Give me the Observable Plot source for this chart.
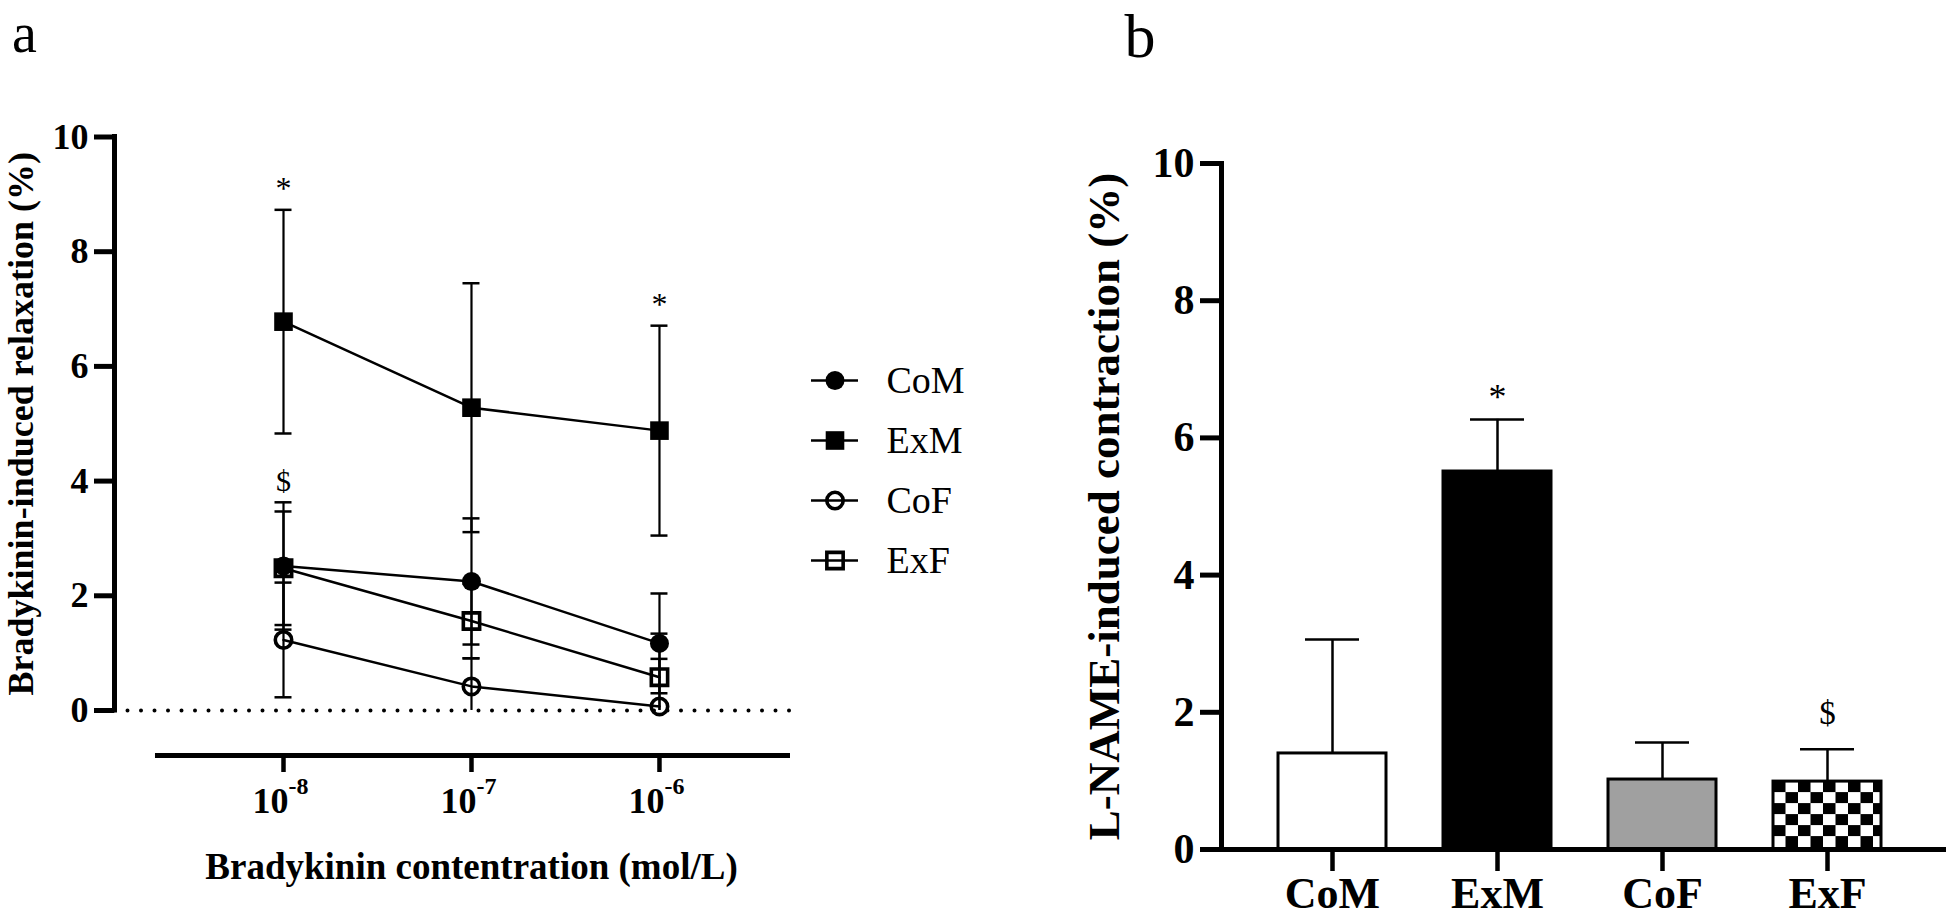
<!DOCTYPE html>
<html>
<head>
<meta charset="utf-8">
<script src="https://cdn.jsdelivr.net/npm/d3@7"></script>
<script src="https://cdn.jsdelivr.net/npm/@observablehq/plot@0.6"></script>
<style>
  html, body { margin: 0; padding: 0; background: #fff; }
  #chart { position: relative; width: 1946px; height: 921px; background: #fff; overflow: hidden; color: #000; }
  #chart > svg { position: absolute; top: 0; }
</style>
</head>
<body>
<div id="chart"></div>
<script>
// ---------------- DATA ----------------
// Panel a: bradykinin-induced relaxation (%), mean and SEM per group and concentration
const concentrations = [1e-8, 1e-7, 1e-6];
const xTickBase = ["10", "10", "10"];
const xTickExponent = ["-8", "-7", "-6"];
const seriesNames = ["CoM", "ExM", "CoF", "ExF"];
const relaxCoM = [2.52, 2.25, 1.17];
const relaxExM = [6.78, 5.28, 4.88];
const relaxCoF = [1.23, 0.42, 0.07];
const relaxExF = [2.48, 1.56, 0.58];
const semCoM = [1.11, 1.10, 0.87];
const semExM = [1.95, 2.17, 1.83];
const semCoF = [1.00, 0.49, 0.83];
const semExF = [0.99, 0.65, 0.76];
const yTicks = [0, 2, 4, 6, 8, 10];
const sigConcA = [1e-8, 1e-6, 1e-8];
const sigSeriesA = ["ExM", "ExM", "CoM"];
const sigMarkA = ["*", "*", "$"];
const titleAx = "Bradykinin contentration (mol/L)";
const titleAy = "Bradykinin-induced relaxation (%)";

// Panel b: L-NAME-induced contraction (%)
const groups = ["CoM", "ExM", "CoF", "ExF"];
const contraction = [1.40, 5.51, 1.02, 0.99];
const contractionSem = [1.66, 0.76, 0.54, 0.47];
const sigGroupsB = ["ExM", "ExF"];
const sigMarkB = ["*", "$"];
const titleBy = "L-NAME-induced contraction (%)";

// ---------------- STYLES ----------------
const FONT = "Liberation Serif, Times New Roman, serif";
const markerStyle = {
  CoM: {symbol: "circle", fill: "black", stroke: "none", r: 9.5},
  ExM: {symbol: "square", fill: "black", stroke: "none", r: 10.5},
  CoF: {symbol: "circle", fill: "none", stroke: "black", strokeWidth: 3.6, r: 8.2},
  ExF: {symbol: "square", fill: "none", stroke: "black", strokeWidth: 3.6, r: 9.2}
};
const barFill = {CoM: "white", ExM: "black", CoF: "#a0a0a0", ExF: "url(#checker)"};
const svgStyle = {fontFamily: FONT, background: "transparent", maxWidth: "none", overflow: "visible", color: "black"};

// ---------------- TABLES ----------------
const means = {CoM: relaxCoM, ExM: relaxExM, CoF: relaxCoF, ExF: relaxExF};
const sems = {CoM: semCoM, ExM: semExM, CoF: semCoF, ExF: semExF};
const rows = [];
seriesNames.forEach(s => concentrations.forEach((c, i) => rows.push({series: s, conc: c, mean: means[s][i], sem: sems[s][i]})));
const caps = [];
rows.forEach(d => {
  caps.push({conc: d.conc, y: d.mean + d.sem});
  if (d.mean - d.sem >= 0) caps.push({conc: d.conc, y: d.mean - d.sem});
});
const sigA = sigConcA.map((c, i) => {
  const k = concentrations.indexOf(c);
  const s = sigSeriesA[i];
  return {conc: c, y: means[s][k] + sems[s][k], mark: sigMarkA[i]};
});
const bars = groups.map((g, i) => ({group: g, value: contraction[i], sem: contractionSem[i]}));
const sigB = sigGroupsB.map((g, i) => {
  const k = groups.indexOf(g);
  return {group: g, y: contraction[k] + contractionSem[k], mark: sigMarkB[i]};
});

// ---------------- PANEL A ----------------
const xMin = 10 ** -8.899, xMax = 10 ** -5.303, xAxisStart = 10 ** -8.681;
const yBottom = -0.785;

const plotA = Plot.plot({
  width: 1000, height: 921,
  marginLeft: 114, marginRight: 210, marginTop: 136.5, marginBottom: 166,
  style: svgStyle,
  x: {type: "log", domain: [xMin, xMax]},
  y: {domain: [yBottom, 10]},
  marks: [
    Plot.ruleY([0], {stroke: "black", strokeWidth: 4, strokeDasharray: "0 13.5", strokeLinecap: "round"}),
    Plot.ruleY([yBottom], {x1: () => xAxisStart, x2: () => xMax, strokeWidth: 5}),
    Plot.ruleX([xMin], {y1: () => 0, y2: () => 10, strokeWidth: 5, strokeLinecap: "square"}),
    Plot.axisY({ticks: yTicks, tickSize: 20, tickPadding: 6, strokeWidth: 5, fontSize: 36, fontWeight: "bold", tickFormat: d3.format("d"), label: null}),
    Plot.axisX({ticks: concentrations, tickSize: 17, strokeWidth: 4.5, tickFormat: () => "", label: null}),
    Plot.text(concentrations, {x: d => d, text: (d, i) => xTickBase[i], frameAnchor: "bottom", lineAnchor: "bottom", textAnchor: "end", dx: 5, dy: 57, fontSize: 36, fontWeight: "bold"}),
    Plot.text(concentrations, {x: d => d, text: (d, i) => xTickExponent[i], frameAnchor: "bottom", lineAnchor: "bottom", textAnchor: "start", dx: 5, dy: 38, fontSize: 24, fontWeight: "bold"}),
    Plot.line(rows, {x: "conc", y: "mean", z: "series", stroke: "black", strokeWidth: 2.5}),
    Plot.ruleX(rows, {x: "conc", y1: d => Math.max(0, d.mean - d.sem), y2: d => d.mean + d.sem, strokeWidth: 2.2}),
    Plot.ruleY(caps, {y: "y", x1: "conc", x2: "conc", insetLeft: -8.5, insetRight: -8.5, strokeWidth: 2.5}),
    ...seriesNames.map(s => Plot.dot(rows.filter(d => d.series === s), {x: "conc", y: "mean", ...markerStyle[s]})),
    Plot.text(sigA.filter(d => d.mark === "*"), {x: "conc", y: "y", text: "mark", lineAnchor: "bottom", dy: -11, fontSize: 32}),
    Plot.text(sigA.filter(d => d.mark === "$"), {x: "conc", y: "y", text: "mark", lineAnchor: "bottom", dy: -11, fontSize: 30}),
    Plot.text([titleAx], {x: () => concentrations[1], text: d => d, frameAnchor: "bottom", lineAnchor: "bottom", textAnchor: "middle", dy: 123, fontSize: 37, fontWeight: "bold"}),
    Plot.text([titleAy], {y: () => 5, text: d => d, frameAnchor: "left", rotate: -90, lineAnchor: "top", textAnchor: "middle", dx: -107, fontSize: 36, fontWeight: "bold"}),
    Plot.text(["a"], {text: d => d, frameAnchor: "top-left", lineAnchor: "bottom", textAnchor: "middle", dx: -90, dy: -85.5, fontSize: 56})
  ]
});
plotA.style.left = "0px";

// ---------------- PANEL B ----------------
const plotB = Plot.plot({
  width: 946, height: 921,
  marginLeft: 221, marginRight: 0, marginTop: 163, marginBottom: 72,
  style: svgStyle,
  x: {type: "band", domain: groups, range: [276.5, 883.5], paddingInner: 0.343, paddingOuter: 0},
  y: {domain: [0, 10]},
  color: {type: "identity"},
  marks: [
    Plot.barY(bars, {x: "group", y: "value", fill: d => barFill[d.group], stroke: "black", strokeWidth: 3}),
    Plot.ruleX(bars, {x: "group", y1: "value", y2: d => d.value + d.sem, strokeWidth: 2.5}),
    Plot.tickY(bars, {x: "group", y: d => d.value + d.sem, strokeWidth: 2.5, insetLeft: 27, insetRight: 27}),
    Plot.ruleY([0], {strokeWidth: 5}),
    Plot.frame({anchor: "left", strokeWidth: 5}),
    Plot.axisY({ticks: yTicks, tickSize: 21, tickPadding: 6, strokeWidth: 5, fontSize: 42, fontWeight: "bold", tickFormat: d3.format("d"), label: null}),
    Plot.axisX({tickSize: 22, tickPadding: 5, strokeWidth: 4.5, fontSize: 44, fontWeight: "bold", label: null}),
    Plot.text(sigB.filter(d => d.mark === "*"), {x: "group", y: "y", text: "mark", lineAnchor: "bottom", dy: -10, fontSize: 36}),
    Plot.text(sigB.filter(d => d.mark === "$"), {x: "group", y: "y", text: "mark", lineAnchor: "bottom", dy: -25, fontSize: 33}),
    Plot.text([titleBy], {y: () => 5, text: d => d, frameAnchor: "left", rotate: -90, lineAnchor: "top", textAnchor: "middle", dx: -134, fontSize: 45, fontWeight: "bold"}),
    Plot.text(["b"], {text: d => d, frameAnchor: "top-left", lineAnchor: "bottom", textAnchor: "middle", dx: -81.5, dy: -107, fontSize: 62})
  ]
});
plotB.style.left = "1000px";
d3.select(plotB).insert("defs", ":first-child").html(
  '<pattern id="checker" patternUnits="userSpaceOnUse" width="25" height="22">' +
  '<rect width="25" height="22" fill="white"/>' +
  '<rect width="12.5" height="11" fill="black"/>' +
  '<rect x="12.5" y="11" width="12.5" height="11" fill="black"/>' +
  '</pattern>'
);
const chk = plotB.querySelector('rect[fill="url(#checker)"]');
if (chk) {
  const pat = plotB.querySelector("#checker");
  pat.setAttribute("x", chk.getAttribute("x") || 0);
  pat.setAttribute("y", chk.getAttribute("y") || 0);
}

// ---------------- LEGEND (panel a) ----------------
const legend = Plot.plot({
  width: 220, height: 270, margin: 0,
  style: svgStyle,
  x: {domain: [0, 1], range: [21, 68], axis: null},
  y: {type: "point", domain: seriesNames, range: [50, 230], padding: 0, axis: null},
  marks: [
    Plot.ruleY(seriesNames, {y: d => d, x1: () => 0, x2: () => 1, strokeWidth: 2.5}),
    ...seriesNames.map(s => Plot.dot([s], {x: () => 0.5, y: d => d, ...markerStyle[s]})),
    Plot.text(seriesNames, {x: () => 1, y: d => d, text: d => d, dx: 28, textAnchor: "start", lineAnchor: "middle", fontSize: 38})
  ]
});
legend.style.left = "790px";
legend.style.top = "330px";

const chart = document.getElementById("chart");
chart.appendChild(plotA);
chart.appendChild(plotB);
chart.appendChild(legend);
</script>
</body>
</html>
